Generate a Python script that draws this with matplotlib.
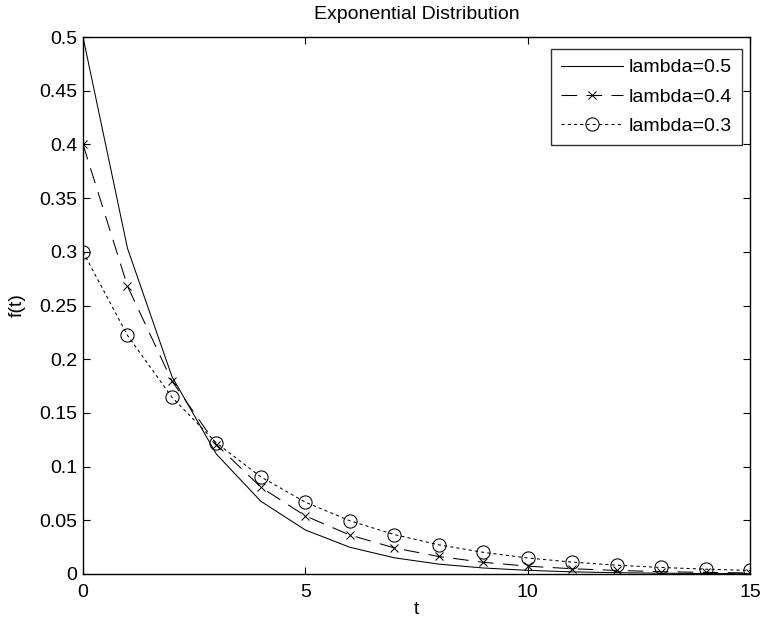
import matplotlib
matplotlib.use("Agg")
import matplotlib.pyplot as plt

plt.rcParams['font.family'] = ['Liberation Sans', 'DejaVu Sans']

t = list(range(16))
f_05 = [0.5, 0.3033, 0.1839, 0.1116, 0.0677, 0.0410, 0.0249, 0.0151, 0.0092, 0.0056,
        0.0034, 0.0020, 0.0012, 0.00075, 0.00045, 0.00028]
f_04 = [0.4, 0.2681, 0.1797, 0.1205, 0.0808, 0.0541, 0.0363, 0.0243, 0.0163, 0.0109,
        0.0073, 0.0049, 0.0033, 0.0022, 0.0015, 0.0010]
f_03 = [0.3, 0.2222, 0.1646, 0.1220, 0.0904, 0.0669, 0.0496, 0.0367, 0.0272, 0.0202,
        0.0149, 0.0111, 0.0082, 0.0061, 0.0045, 0.0033]
labels = ['lambda=0.5', 'lambda=0.4', 'lambda=0.3']
xticks = [0, 5, 10, 15]
yticks = [0, 0.05, 0.1, 0.15, 0.2, 0.25, 0.3, 0.35, 0.4, 0.45, 0.5]
ytick_labels = ['0', '0.05', '0.1', '0.15', '0.2', '0.25', '0.3', '0.35', '0.4', '0.45', '0.5']

FS = 14
fig = plt.figure(figsize=(7.63, 6.29), dpi=100)
ax = fig.add_axes([83/763, 1-574/629, (750-83)/763, (574-37)/629])

LW = 0.75
ax.plot(t, f_05, '-', color='black', lw=LW, label=labels[0])
ax.plot(t, f_04, color='black', lw=LW, marker='x', ms=6, mew=LW,
        dashes=(15, 9), label=labels[1])
ax.plot(t, f_03, color='black', lw=LW, marker='o', ms=9.5, mfc='none', mew=LW,
        dashes=(3, 3), label=labels[2])

ax.set_xlim(0, 15)
ax.set_ylim(0, 0.5)
ax.set_xticks(xticks)
ax.set_yticks(yticks)
ax.set_yticklabels(ytick_labels)
ax.tick_params(direction='in', length=5, width=0.8, labelsize=FS, top=True, right=True)
ax.tick_params(axis='y', pad=4)
ax.tick_params(axis='x', pad=7)
for s in ax.spines.values():
    s.set_linewidth(1.0)

ax.set_xlabel('t', fontsize=FS, labelpad=0)
ax.set_ylabel('f(t)', fontsize=FS, labelpad=10)
ax.set_title('Exponential Distribution', fontsize=FS, pad=13)

leg = ax.legend(loc='upper right', bbox_to_anchor=((742-83)/667, (574-49)/537),
                fontsize=FS, frameon=True, fancybox=False,
                edgecolor='black', handlelength=3.2, borderaxespad=0.0,
                labelspacing=0.6, handletextpad=0.3, borderpad=0.5)
leg.get_frame().set_linewidth(1.0)

fig.savefig('out.png', dpi=100)
